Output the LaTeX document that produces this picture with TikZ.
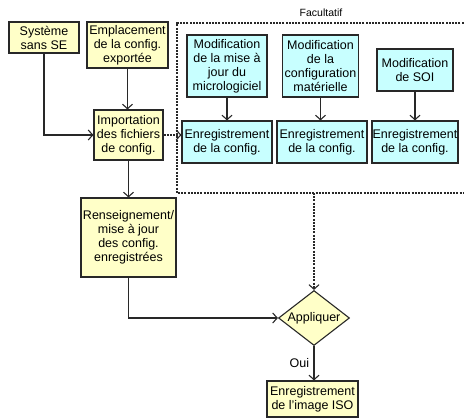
\documentclass[tikz,border=0pt]{standalone}
\usepackage{fontspec}
\setmainfont{Liberation Sans}
\usetikzlibrary{arrows.meta,shapes.geometric}
\definecolor{ybox}{RGB}{255,255,200}
\definecolor{cbox}{RGB}{200,255,255}
\definecolor{edge}{RGB}{40,40,40}
\begin{document}
\begin{tikzpicture}[x=1pt,y=-1pt,
  font=\fontsize{12.5}{14}\selectfont,
  box/.style={draw=edge,line width=1.1pt,inner sep=0pt,align=center,anchor=center},
  ybx/.style={box,fill=ybox},
  cbx/.style={box,fill=cbox},
  dia/.style={diamond,draw=edge,line width=1.1pt,fill=ybox,inner sep=0pt,aspect=1.3},
  arr/.style={draw=edge,line width=1.1pt,-{Straight Barb[length=4.5pt,width=10pt]}},
  darr/.style={arr,dash pattern=on 2pt off 1.2pt},
  dline/.style={draw=edge,line width=1.1pt,dash pattern=on 2pt off 1.2pt}]
\useasboundingbox (0,0) rectangle (464,419);
% dashed optional frame
\draw[dline] (470,23) -- (177,23) -- (177,193) -- (470,193);
\node (fac) at (321,13) {\fontsize{10.5}{12}\selectfont Facultatif};
\coordinate (fb) at (314,193);
% yellow boxes
\node[ybx,minimum width=70pt,minimum height=31pt] (sys) at (44,37.5) {Système\\sans SE};
\node[ybx,minimum width=81pt,minimum height=46pt] (emp) at (127.5,45) {Emplacement\\de la config.\\exportée};
\node[ybx,minimum width=69pt,minimum height=50pt] (imp) at (128.5,135) {Importation\\des fichiers\\de config.};
\node[ybx,minimum width=95pt,minimum height=79pt] (ren) at (128.5,237.5) {Renseignement/\\mise à jour\\des config.\\enregistrées};
% blue boxes
\node[cbx,minimum width=80pt,minimum height=62pt] (m1) at (227,66) {Modification\\de la mise à\\jour du\\micrologiciel};
\node[cbx,minimum width=76pt,minimum height=62pt] (m2) at (320.5,66) {Modification\\de la\\configuration\\matérielle};
\node[cbx,minimum width=76pt,minimum height=42pt] (m3) at (415,70) {Modification\\de SOI};
\node[cbx,minimum width=90pt,minimum height=42pt] (e1) at (227,142) {Enregistrement\\de la config.};
\node[cbx,minimum width=90pt,minimum height=42pt] (e2) at (322,142) {Enregistrement\\de la config.};
\node[cbx,minimum width=86pt,minimum height=42pt] (e3) at (415,142) {Enregistrement\\de la config.};
% decision
\node[dia,minimum width=71pt,minimum height=55pt] (app) at (314,318) {};
\node (appt) at (app.center) {Appliquer};
\node[ybx,minimum width=91pt,minimum height=36pt] (iso) at (312.5,399) {Enregistrement\\de l'image ISO};
% connectors
\draw[arr] (sys.south) |- (imp.west);
\draw[arr] (emp.south) -- (emp.south |- imp.north);
\draw[darr] (imp.east) -- (imp.east -| e1.west);
\draw[arr] (imp.south) -- (ren.north);
\draw[arr] (m1.south) -- (e1.north);
\draw[arr] (m2.south) -- (m2.south |- e2.north);
\draw[arr] (m3.south) -- (e3.north);
\draw[arr] (ren.south) |- (app.west);
\draw[darr] (fb) -- (app.north);
\draw[arr] (app.south) -- node[left=1pt] (oui) {Oui} (app.south |- iso.north);
\end{tikzpicture}
\end{document}
